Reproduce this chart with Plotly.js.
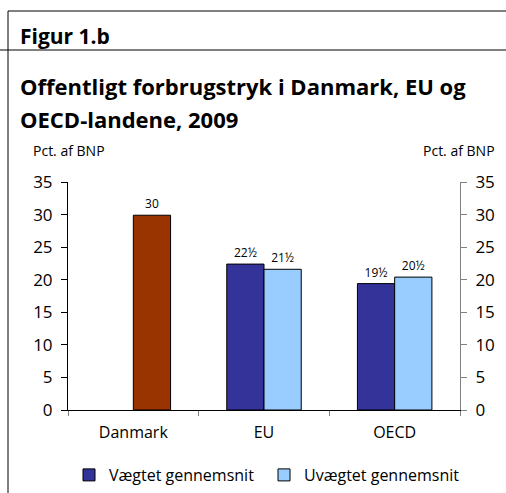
<!DOCTYPE html>
<html><head><meta charset="utf-8">
<script src="https://cdn.plot.ly/plotly-3.0.1.min.js"></script>
<style>html,body{margin:0;padding:0;background:#fff}#c{width:506px;height:493px}</style>
</head><body><div id="c"></div>
<script>
const categories = ['Danmark', 'EU', 'OECD'];
const vaegtet = [null, 22.4, 19.4];
const uvaegtet = [null, 21.6, 20.4];
const danmark = [29.9, null, null];
const vaegtetLabels = ['', '22½', '19½'];
const uvaegtetLabels = ['', '21½', '20½'];
const danmarkLabels = ['30', '', ''];
const yTicks = [0, 5, 10, 15, 20, 25, 30, 35];

const W = 506, H = 493, L = 68, R = 460, T = 182, B = 410;
const px = x => (x - L) / (R - L);
const py = y => (B - y) / (B - T);
const FONT = 'Open Sans, sans-serif';

const common = {type: 'bar', x: categories, textposition: 'outside', cliponaxis: false,
  textfont: {size: 12, color: '#000', family: FONT}, hoverinfo: 'skip'};

const traces = [
  Object.assign({}, common, {name: 'Vægtet gennemsnit', y: vaegtet, text: vaegtetLabels, offsetgroup: '1',
    marker: {color: '#333399', line: {color: '#000', width: 1}}}),
  Object.assign({}, common, {name: 'Uvægtet gennemsnit', y: uvaegtet, text: uvaegtetLabels, offsetgroup: '2',
    marker: {color: '#99ccff', line: {color: '#000', width: 1}}}),
  Object.assign({}, common, {name: 'Danmark', y: danmark, text: danmarkLabels, offsetgroup: '2', showlegend: false,
    marker: {color: '#993300', line: {color: '#000', width: 1}}}),
  {type: 'scatter', x: categories, y: [null, null, null], yaxis: 'y2', showlegend: false, hoverinfo: 'skip'}
];

const layout = {
  width: W, height: H,
  margin: {l: L, r: W - R, t: T, b: H - B, pad: 0, autoexpand: false},
  paper_bgcolor: '#fff', plot_bgcolor: '#fff',
  font: {family: FONT, color: '#000'},
  barmode: 'group', bargap: 0.43, bargroupgap: 0,
  showlegend: true,
  legend: {orientation: 'h', x: 0.5, xanchor: 'center', y: py(475), yanchor: 'middle',
    font: {size: 16, family: FONT}, traceorder: 'normal', tracegroupgap: 0,
    entrywidthmode: 'pixels', entrywidth: 150},
  xaxis: {type: 'category', showline: true, linecolor: '#000', linewidth: 1, ticks: 'outside',
    ticklen: 5, tickcolor: '#808080', tickson: 'boundaries', showgrid: false, automargin: false,
    tickfont: {size: 16, family: FONT}, ticklabelstandoff: 8, fixedrange: true},
  yaxis: {range: [0, 35], tickvals: yTicks, showline: true, linecolor: '#000', linewidth: 1,
    ticks: 'outside', ticklen: 6, tickcolor: '#000', showgrid: false, zeroline: false, automargin: false,
    tickfont: {size: 17, family: FONT}, ticklabelstandoff: 5, fixedrange: true},
  yaxis2: {range: [0, 35], tickvals: yTicks, overlaying: 'y', side: 'right', showline: true,
    linecolor: '#808080', linewidth: 1, ticks: 'outside', ticklen: 6, tickcolor: '#808080', automargin: false,
    showgrid: false, zeroline: false, tickfont: {size: 17, family: FONT}, ticklabelstandoff: 5, fixedrange: true},
  shapes: [
    {type: 'line', xref: 'paper', yref: 'paper', x0: px(8), x1: px(506), y0: py(11), y1: py(11), line: {color: '#000', width: 1}},
    {type: 'line', xref: 'paper', yref: 'paper', x0: px(0), x1: px(506), y0: py(50), y1: py(50), line: {color: '#000', width: 1}},
    {type: 'line', xref: 'paper', yref: 'paper', x0: px(8), x1: px(8), y0: py(11), y1: py(493), line: {color: '#000', width: 1}}
  ],
  annotations: [
    {text: '<b>Figur 1.b</b>', xref: 'paper', yref: 'paper', x: px(18), y: py(36), xanchor: 'left', yanchor: 'middle', showarrow: false, font: {size: 21, family: FONT}},
    {text: '<b>Offentligt forbrugstryk i Danmark, EU og</b>', xref: 'paper', yref: 'paper', x: px(18), y: py(86), xanchor: 'left', yanchor: 'middle', showarrow: false, font: {size: 22, family: FONT}},
    {text: '<b>OECD-landene, 2009</b>', xref: 'paper', yref: 'paper', x: px(18), y: py(119), xanchor: 'left', yanchor: 'middle', showarrow: false, font: {size: 22, family: FONT}},
    {text: 'Pct. af BNP', xref: 'paper', yref: 'paper', x: px(31), y: py(150), xanchor: 'left', yanchor: 'middle', showarrow: false, font: {size: 14, family: FONT}},
    {text: 'Pct. af BNP', xref: 'paper', yref: 'paper', x: px(497), y: py(150), xanchor: 'right', yanchor: 'middle', showarrow: false, font: {size: 14, family: FONT}}
  ]
};
Plotly.newPlot('c', traces, layout, {staticPlot: true, displayModeBar: false});
</script></body></html>
